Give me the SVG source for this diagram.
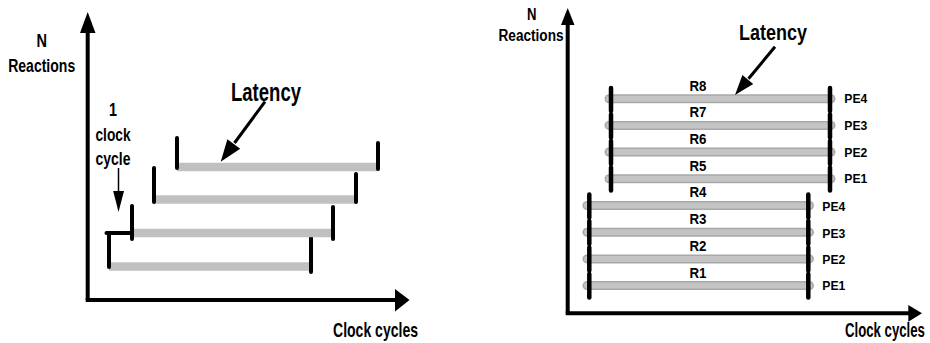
<svg xmlns="http://www.w3.org/2000/svg" width="930" height="343" viewBox="0 0 930 343">
  <style>
    .bg { fill: #ffffff; }
    .axis { stroke: #000; stroke-width: 4; fill: none; }
    .head { fill: #000; stroke: none; }
    .shaft { stroke: #000; stroke-width: 3; fill: none; }
    .thin { stroke: #000; stroke-width: 1.5; fill: none; }
    .bar { stroke: #c0c0c0; stroke-width: 8.5; stroke-linecap: butt; fill: none; }
    .pbar-edge { stroke: #a8a8a8; stroke-width: 9; stroke-linecap: round; fill: none; }
    .pbar { stroke: #c4c4c4; stroke-width: 6; stroke-linecap: round; fill: none; }
    .tick { stroke: #000; stroke-width: 4; stroke-linecap: round; fill: none; }
    .ptick { stroke: #000; stroke-width: 4.5; stroke-linecap: round; fill: none; }
    text { font-family: "Liberation Sans", Arial, sans-serif; font-weight: bold; fill: #000; }
    .mid { text-anchor: middle; }
  </style>

  <rect class="bg" x="0" y="0" width="930" height="343"/>

  <!-- Left chart: pipelined reactions, one clock cycle apart -->
  <g id="left-chart">
    <g id="left-axes">
      <line class="axis" x1="87.7" y1="30" x2="87.7" y2="300"/>
      <polygon class="head" points="80,33 95.5,33 87.7,12"/>
      <line class="axis" x1="85.7" y1="300" x2="397" y2="300"/>
      <polygon class="head" points="395,289 395,311.5 409.5,300"/>
      <text class="mid" x="41.7" y="46.7" font-size="19" textLength="10.5" lengthAdjust="spacingAndGlyphs">N</text>
      <text class="mid" x="41.7" y="71.5" font-size="19" textLength="67" lengthAdjust="spacingAndGlyphs">Reactions</text>
      <text x="333" y="337" font-size="21" textLength="85" lengthAdjust="spacingAndGlyphs">Clock cycles</text>
    </g>

    <g id="left-reaction-1">
      <line class="bar" x1="109" y1="266.5" x2="311" y2="266.5"/>
      <line class="tick" x1="109" y1="234" x2="109" y2="267"/>
      <line class="tick" x1="311" y1="233" x2="311" y2="272"/>
    </g>
    <g id="left-reaction-2">
      <line class="bar" x1="132" y1="233" x2="333" y2="233"/>
      <line class="tick" x1="132" y1="206" x2="132" y2="239"/>
      <line class="tick" x1="333" y1="207" x2="333" y2="239"/>
    </g>
    <g id="left-reaction-3">
      <line class="bar" x1="154" y1="199.5" x2="356" y2="199.5"/>
      <line class="tick" x1="154" y1="168" x2="154" y2="202"/>
      <line class="tick" x1="356" y1="174" x2="356" y2="202"/>
    </g>
    <g id="left-reaction-4">
      <line class="bar" x1="177" y1="167" x2="378" y2="167"/>
      <line class="tick" x1="177" y1="138" x2="177" y2="168"/>
      <line class="tick" x1="378" y1="143" x2="378" y2="169"/>
    </g>

    <g id="left-clock-cycle">
      <text class="mid" x="113" y="116" font-size="18" textLength="8" lengthAdjust="spacingAndGlyphs">1</text>
      <text class="mid" x="113" y="141" font-size="18" textLength="35" lengthAdjust="spacingAndGlyphs">clock</text>
      <text class="mid" x="113" y="164.5" font-size="18" textLength="35" lengthAdjust="spacingAndGlyphs">cycle</text>
    </g>

    <g id="left-latency">
      <text x="231" y="101" font-size="26" textLength="70" lengthAdjust="spacingAndGlyphs">Latency</text>
    </g>

    <g id="left-connectors">
      <line class="tick" x1="106.5" y1="233" x2="131" y2="233"/>
      <line class="thin" x1="118.5" y1="168" x2="118.5" y2="194"/>
      <polygon class="head" points="113.2,191 124,191 118.5,212"/>
      <line class="shaft" x1="265" y1="101.7" x2="234.5" y2="143"/>
      <polygon class="head" points="240.2,148.8 227.4,139.3 220.7,161.7"/>
    </g>
  </g>

  <!-- Right chart: reactions spread over four processing elements -->
  <g id="right-chart">
    <g id="right-axes">
      <line class="axis" x1="567.7" y1="22" x2="567.7" y2="313.3"/>
      <polygon class="head" points="561,25 574.5,25 567.7,8"/>
      <line class="axis" x1="565.7" y1="313.3" x2="910" y2="313.3"/>
      <polygon class="head" points="908.3,305 908.3,321.7 922,313.3"/>
      <text class="mid" x="531.7" y="20" font-size="16" textLength="9.5" lengthAdjust="spacingAndGlyphs">N</text>
      <text class="mid" x="531" y="40.5" font-size="16" textLength="65" lengthAdjust="spacingAndGlyphs">Reactions</text>
      <text transform="translate(845 337) scale(0.66 1)" x="0" y="0" font-size="20">Clock cycles</text>
    </g>

    <!-- second wave: R5..R8 -->
    <g id="reaction-R8">
      <line class="pbar-edge" x1="609" y1="98.7" x2="831" y2="98.7"/>
      <line class="pbar" x1="609" y1="98.7" x2="831" y2="98.7"/>
      <line class="ptick" x1="611" y1="88" x2="611" y2="111"/>
      <line class="ptick" x1="830" y1="88" x2="830" y2="111"/>
      <text class="mid" x="698" y="90.7" font-size="14" textLength="17" lengthAdjust="spacingAndGlyphs">R8</text>
      <text x="844.3" y="103.3" font-size="13" textLength="23" lengthAdjust="spacingAndGlyphs">PE4</text>
    </g>
    <g id="reaction-R7">
      <line class="pbar-edge" x1="609" y1="125.4" x2="831" y2="125.4"/>
      <line class="pbar" x1="609" y1="125.4" x2="831" y2="125.4"/>
      <line class="ptick" x1="611" y1="114.5" x2="611" y2="137.5"/>
      <line class="ptick" x1="830" y1="114.5" x2="830" y2="137.5"/>
      <text class="mid" x="698" y="117.3" font-size="14" textLength="17" lengthAdjust="spacingAndGlyphs">R7</text>
      <text x="844.3" y="130" font-size="13" textLength="23" lengthAdjust="spacingAndGlyphs">PE3</text>
    </g>
    <g id="reaction-R6">
      <line class="pbar-edge" x1="609" y1="152" x2="831" y2="152"/>
      <line class="pbar" x1="609" y1="152" x2="831" y2="152"/>
      <line class="ptick" x1="611" y1="141" x2="611" y2="164"/>
      <line class="ptick" x1="830" y1="141" x2="830" y2="164"/>
      <text class="mid" x="698" y="144" font-size="14" textLength="17" lengthAdjust="spacingAndGlyphs">R6</text>
      <text x="844.3" y="156.5" font-size="13" textLength="23" lengthAdjust="spacingAndGlyphs">PE2</text>
    </g>
    <g id="reaction-R5">
      <line class="pbar-edge" x1="609" y1="178.7" x2="831" y2="178.7"/>
      <line class="pbar" x1="609" y1="178.7" x2="831" y2="178.7"/>
      <line class="ptick" x1="611" y1="167.5" x2="611" y2="190.5"/>
      <line class="ptick" x1="830" y1="167.5" x2="830" y2="190.5"/>
      <text class="mid" x="698" y="170.7" font-size="14" textLength="17" lengthAdjust="spacingAndGlyphs">R5</text>
      <text x="844.3" y="183" font-size="13" textLength="23" lengthAdjust="spacingAndGlyphs">PE1</text>
    </g>

    <!-- first wave: R1..R4 -->
    <g id="reaction-R4">
      <line class="pbar-edge" x1="587" y1="205.5" x2="809.5" y2="205.5"/>
      <line class="pbar" x1="587" y1="205.5" x2="809.5" y2="205.5"/>
      <line class="ptick" x1="589.3" y1="194.5" x2="589.3" y2="217.5"/>
      <line class="ptick" x1="808.3" y1="194.5" x2="808.3" y2="217.5"/>
      <text class="mid" x="698" y="197.3" font-size="14" textLength="17" lengthAdjust="spacingAndGlyphs">R4</text>
      <text x="822.3" y="211" font-size="13" textLength="23" lengthAdjust="spacingAndGlyphs">PE4</text>
    </g>
    <g id="reaction-R3">
      <line class="pbar-edge" x1="587" y1="232.2" x2="809.5" y2="232.2"/>
      <line class="pbar" x1="587" y1="232.2" x2="809.5" y2="232.2"/>
      <line class="ptick" x1="589.3" y1="221" x2="589.3" y2="244"/>
      <line class="ptick" x1="808.3" y1="221" x2="808.3" y2="244"/>
      <text class="mid" x="698" y="224.3" font-size="14" textLength="17" lengthAdjust="spacingAndGlyphs">R3</text>
      <text x="822.3" y="237.7" font-size="13" textLength="23" lengthAdjust="spacingAndGlyphs">PE3</text>
    </g>
    <g id="reaction-R2">
      <line class="pbar-edge" x1="587" y1="258.9" x2="809.5" y2="258.9"/>
      <line class="pbar" x1="587" y1="258.9" x2="809.5" y2="258.9"/>
      <line class="ptick" x1="589.3" y1="247.5" x2="589.3" y2="270.5"/>
      <line class="ptick" x1="808.3" y1="247.5" x2="808.3" y2="270.5"/>
      <text class="mid" x="698" y="251" font-size="14" textLength="17" lengthAdjust="spacingAndGlyphs">R2</text>
      <text x="822.3" y="264" font-size="13" textLength="23" lengthAdjust="spacingAndGlyphs">PE2</text>
    </g>
    <g id="reaction-R1">
      <line class="pbar-edge" x1="587" y1="285.6" x2="809.5" y2="285.6"/>
      <line class="pbar" x1="587" y1="285.6" x2="809.5" y2="285.6"/>
      <line class="ptick" x1="589.3" y1="274" x2="589.3" y2="297.5"/>
      <line class="ptick" x1="808.3" y1="274" x2="808.3" y2="297.5"/>
      <text class="mid" x="698" y="277.7" font-size="14" textLength="17" lengthAdjust="spacingAndGlyphs">R1</text>
      <text x="822.3" y="290" font-size="13" textLength="23" lengthAdjust="spacingAndGlyphs">PE1</text>
    </g>

    <g id="right-latency">
      <text x="739" y="40" font-size="22" textLength="68" lengthAdjust="spacingAndGlyphs">Latency</text>
    </g>

    <g id="right-connectors">
      <line class="shaft" x1="775" y1="46.7" x2="748.5" y2="78.8"/>
      <polygon class="head" points="753.2,84.1 742.4,75.1 735,95"/>
    </g>
  </g>
</svg>
